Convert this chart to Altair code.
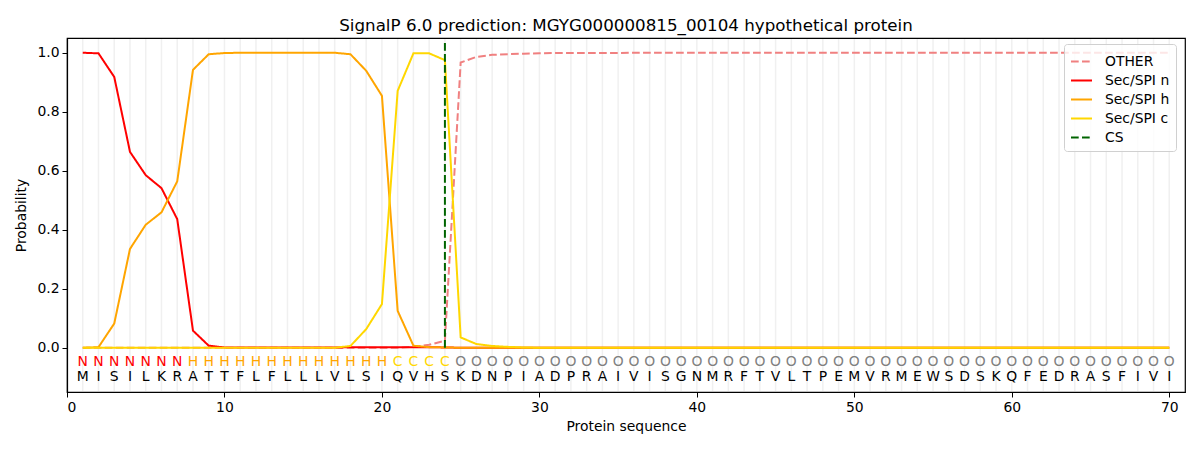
import altair as alt
import pandas as pd

sequence = list("MISILKRATTFLFLLLVLSIQVHSKDNPIADPRAIVISGNMRFTVLTPEMVRMEWSDSKQFEDRASFIVI")
labels = list("NNNNNNNHHHHHHHHHHHHHCCCC" + "O" * 46)
positions = list(range(1, 71))

p_other = [0, 0, 0, 0, 0, 0, 0, 0, 0, 0,
           0, 0, 0, 0, 0, 0, 0, 0, 0, 0,
           0, 0.003, 0.01, 0.024, 0.967, 0.986, 0.993, 0.995, 0.997, 0.998,
           0.999, 0.999, 0.999, 0.999, 0.999, 1, 1, 1, 1, 1,
           1, 1, 1, 1, 1, 1, 1, 1, 1, 1,
           1, 1, 1, 1, 1, 1, 1, 1, 1, 1,
           1, 1, 1, 1, 1, 1, 1, 1, 1, 1]
p_n = [1.0, 0.998, 0.918, 0.664, 0.585, 0.541, 0.436, 0.058, 0.007, 0.001,
       0.0005, 0.0005, 0.0005, 0.0005, 0.0005, 0.0005, 0.0005, 0.002, 0.002, 0.002,
       0.002, 0.002, 0.002, 0.001, 0, 0, 0, 0, 0, 0,
       0, 0, 0, 0, 0, 0, 0, 0, 0, 0,
       0, 0, 0, 0, 0, 0, 0, 0, 0, 0,
       0, 0, 0, 0, 0, 0, 0, 0, 0, 0,
       0, 0, 0, 0, 0, 0, 0, 0, 0, 0]
p_h = [0.0, 0.002, 0.082, 0.335, 0.417, 0.459, 0.564, 0.942, 0.995, 0.999,
       1, 1, 1, 1, 1, 1, 1, 0.995, 0.939, 0.854,
       0.125, 0.007, 0.002, 0.001, 0, 0, 0, 0, 0, 0,
       0, 0, 0, 0, 0, 0, 0, 0, 0, 0,
       0, 0, 0, 0, 0, 0, 0, 0, 0, 0,
       0, 0, 0, 0, 0, 0, 0, 0, 0, 0,
       0, 0, 0, 0, 0, 0, 0, 0, 0, 0]
p_c = [0, 0, 0, 0, 0, 0, 0, 0, 0, 0,
       0, 0, 0, 0, 0, 0, 0, 0.006, 0.063, 0.148,
       0.871, 0.998, 0.998, 0.975, 0.035, 0.0125, 0.006, 0.003, 0.001, 0,
       0, 0, 0, 0, 0, 0, 0, 0, 0, 0,
       0, 0, 0, 0, 0, 0, 0, 0, 0, 0,
       0, 0, 0, 0, 0, 0, 0, 0, 0, 0,
       0, 0, 0, 0, 0, 0, 0, 0, 0, 0]
cs_position = [24]

series_names = ["OTHER", "Sec/SPI n", "Sec/SPI h", "Sec/SPI c", "CS"]
series_colors = ["#f08080", "#ff0000", "#ffa500", "#ffd700", "#006400"]
series_dash = [[7.7, 3.3], [1, 0], [1, 0], [1, 0], [7.7, 3.3]]
label_colors = {"N": "#ff0000", "H": "#ffa500", "C": "#ffd700", "O": "#808080"}

FONT = "DejaVu Sans"

rows = []
for name, vals in zip(series_names[:4], [p_other, p_n, p_h, p_c]):
    for p, v in zip(positions, vals):
        rows.append({"pos": p, "prob": v, "series": name})
df = pd.DataFrame(rows)
seq_df = pd.DataFrame({"pos": positions, "aa": sequence, "lab": labels})
cs_df = pd.DataFrame({"pos": cs_position, "series": ["CS"]})
grid_df = pd.DataFrame({"pos": positions})

xscale = alt.Scale(domain=[0, 71], nice=False, zero=False)
yscale = alt.Scale(domain=[-0.15, 1.05], nice=False, zero=False)

legend = alt.Legend(
    title=None, orient="none", legendX=997, legendY=6,
    symbolType="stroke", symbolSize=441, symbolStrokeWidth=2,
    labelFont=FONT, labelFontSize=13.9, labelColor="#000000",
    fillColor="rgba(255,255,255,0.8)", strokeColor="#d0d0d0", padding=6, cornerRadius=3,
    rowPadding=0, labelOffset=12,
)
color = alt.Color("series:N", scale=alt.Scale(domain=series_names, range=series_colors), legend=legend)
dash = alt.StrokeDash("series:N", scale=alt.Scale(domain=series_names, range=series_dash), legend=legend)

xenc = alt.X("pos:Q", scale=xscale,
             axis=alt.Axis(title="Protein sequence", values=[0, 10, 20, 30, 40, 50, 60, 70],
                           format="d", grid=False))

grid = alt.Chart(grid_df).mark_rule(color="#f0f0f0", strokeWidth=1.5).encode(
    x=xenc, y=alt.datum(-0.147, scale=yscale), y2=alt.datum(1.047)
)

layers = [grid]
for name in series_names[:4]:
    layers.append(
        alt.Chart(df).transform_filter(alt.datum.series == name).mark_line(strokeWidth=2).encode(
            x=alt.X("pos:Q", scale=xscale),
            y=alt.Y("prob:Q", scale=yscale,
                    axis=alt.Axis(title="Probability", values=[0, 0.2, 0.4, 0.6, 0.8, 1.0],
                                  format=".1f", grid=False)),
            color=color, strokeDash=dash,
        )
    )

cs = alt.Chart(cs_df).mark_rule(strokeWidth=2).encode(
    x=alt.X("pos:Q", scale=xscale), y=alt.datum(0), y2=alt.datum(1.035),
    color=color, strokeDash=dash,
)
layers.append(cs)

for lab, col in label_colors.items():
    layers.append(
        alt.Chart(seq_df).transform_filter(alt.datum.lab == lab).mark_text(
            font=FONT, fontSize=13.9, color=col
        ).encode(x=alt.X("pos:Q", scale=xscale), y=alt.datum(-0.047), text="lab:N")
    )
layers.append(
    alt.Chart(seq_df).mark_text(font=FONT, fontSize=13.9, color="#000000").encode(
        x=alt.X("pos:Q", scale=xscale), y=alt.datum(-0.1), text="aa:N"
    )
)

chart = alt.layer(*layers).properties(
    width=1118, height=354,
    title=alt.TitleParams("SignalP 6.0 prediction: MGYG000000815_00104 hypothetical protein",
                          font=FONT, fontSize=16.7, fontWeight="normal", anchor="middle",
                          offset=3, color="#000000"),
    autosize=alt.AutoSizeParams(type="none"),
    padding={"left": 59, "top": 30, "right": 7, "bottom": 50},
).configure_view(stroke="#000000", strokeWidth=1.2).configure_axis(
    labelFont=FONT, labelFontSize=13.9, labelColor="#000000",
    titleFont=FONT, titleFontSize=13.9, titleFontWeight="normal", titleColor="#000000",
    domainColor="#000000", tickColor="#000000", tickSize=5, labelPadding=3,
    domainWidth=1.2,
).configure_axisY(titlePadding=8).configure_axisX(titlePadding=6)

chart.save("out.html", embed_options={"renderer": "svg", "actions": False})
